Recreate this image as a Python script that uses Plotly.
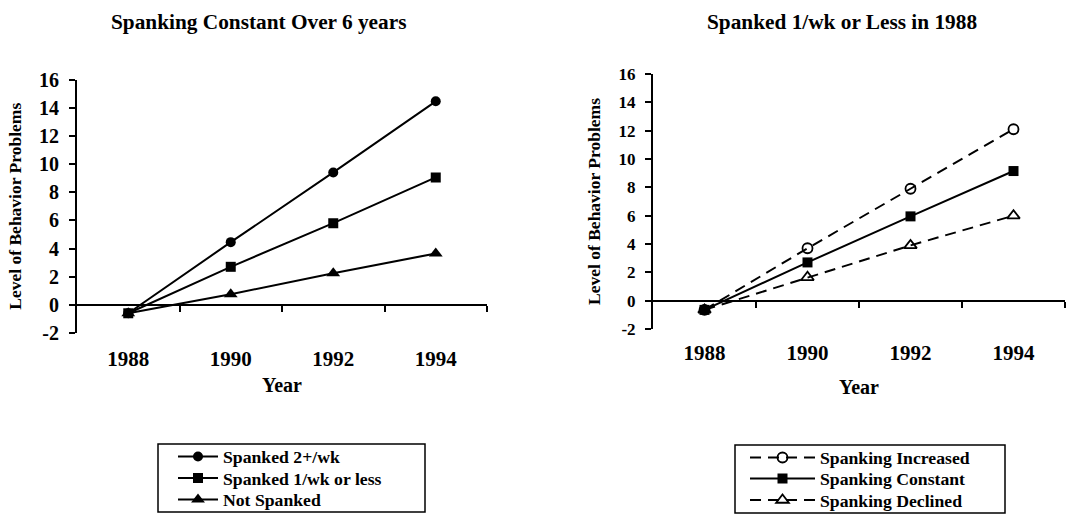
import plotly.graph_objects as go

W, H = 1067, 514

years = [1988, 1990, 1992, 1994]

# Left panel: Spanking Constant Over 6 years
left_names = ["Spanked 2+/wk", "Spanked 1/wk or less", "Not Spanked"]
spanked_2plus = [-0.6, 4.45, 9.4, 14.45]
spanked_1orless = [-0.6, 2.7, 5.8, 9.05]
not_spanked = [-0.6, 0.75, 2.25, 3.65]

# Right panel: Spanked 1/wk or Less in 1988
right_names = ["Spanking Increased", "Spanking Constant", "Spanking Declined"]
spank_increased = [-0.65, 3.7, 7.9, 12.1]
spank_constant = [-0.65, 2.7, 5.95, 9.15]
spank_declined = [-0.65, 1.65, 3.9, 6.0]

y_ticks = list(range(-2, 17, 2))
y_ticktext = [str(v) for v in y_ticks]  # plain hyphen for "-2"
x_boundaries = [1989, 1991, 1993, 1995]

FONT = "Liberation Serif"

def px_x(p):
    return p / W

def px_y(p):
    return 1 - p / H

# domains (pixel based)
L_x = [px_x(77), px_x(487)]
L_y = [px_y(333), px_y(79.5)]
R_x = [px_x(653), px_x(1065)]
R_y = [px_y(329), px_y(74)]

def zero_pos(dom):
    return dom[0] + (0 - (-2)) / 18 * (dom[1] - dom[0])

bold = lambda s: dict(family=FONT, size=s, color="black", weight="bold")

fig = go.Figure()

left_series = [spanked_2plus, spanked_1orless, not_spanked]
left_markers = [dict(symbol="circle", size=10, color="black"),
                dict(symbol="square", size=10, color="black"),
                dict(symbol="triangle-up", size=12, color="black")]
right_series = [spank_increased, spank_constant, spank_declined]
right_markers = [dict(symbol="circle-open", size=10, color="black", line=dict(width=1.8)),
                 dict(symbol="square", size=10, color="black"),
                 dict(symbol="triangle-up-open", size=11, color="black", line=dict(width=1.8))]
right_dash = ["11px,7px", "solid", "11px,7px"]

for i in range(3):
    fig.add_trace(go.Scatter(x=years, y=left_series[i], name=left_names[i], mode="lines+markers",
                             line=dict(color="black", width=2), marker=left_markers[i],
                             xaxis="x", yaxis="y", legend="legend" if i == 0 else f"legend{i+1}"))
for i in range(3):
    fig.add_trace(go.Scatter(x=years, y=right_series[i], name=right_names[i], mode="lines+markers",
                             line=dict(color="black", width=2, dash=right_dash[i]), marker=right_markers[i],
                             xaxis="x2", yaxis="y2", legend=f"legend{i+4}"))

def label_xaxis(dom, anchor, size, ticklen, standoff):
    return dict(domain=dom, anchor=anchor, range=[1987, 1995], showline=False, showgrid=False,
                zeroline=False, tickmode="array", tickvals=years, ticktext=[str(y) for y in years],
                ticks="outside", ticklen=ticklen, tickcolor="rgba(0,0,0,0)", tickfont=bold(size),
                title=dict(text="Year", font=bold(20), standoff=standoff))

def tick_xaxis(dom, overlay, pos):
    return dict(domain=dom, overlaying=overlay, anchor="free", position=pos, range=[1987, 1995],
                showline=True, linecolor="black", linewidth=2, showgrid=False, zeroline=False,
                tickmode="array", tickvals=x_boundaries, ticks="outside", ticklen=6, tickwidth=2,
                tickcolor="black", showticklabels=False)

def yax(dom, anchor, size):
    return dict(domain=dom, anchor=anchor, range=[-2, 16], showline=True, linecolor="black", linewidth=2,
                showgrid=False, zeroline=False, tickmode="array", tickvals=y_ticks, ticktext=y_ticktext,
                ticks="outside", ticklen=6, tickwidth=2, tickcolor="black", tickfont=bold(size),
                ticklabelstandoff=6,
                title=dict(text="Level of Behavior Problems", font=bold(17.5), standoff=13))

def leg(xpx, ypx, itemwidth):
    return dict(x=px_x(xpx), y=px_y(ypx), xanchor="left", yanchor="middle",
                font=bold(17.7), itemwidth=itemwidth, bgcolor="rgba(0,0,0,0)", borderwidth=0)

left_leg_y = [457, 478.5, 500]
right_leg_y = [458, 479, 500.5]

layout_legends = {}
for i in range(3):
    key = "legend" if i == 0 else f"legend{i+1}"
    layout_legends[key] = leg(173, left_leg_y[i], 40)
for i in range(3):
    layout_legends[f"legend{i+4}"] = leg(745, right_leg_y[i], 65)

fig.update_layout(
    width=W, height=H,
    margin=dict(l=0, r=0, t=0, b=0, autoexpand=False),
    paper_bgcolor="white", plot_bgcolor="white",
    font=dict(family=FONT, color="black"),
    xaxis=label_xaxis(L_x, "y", 21, 7, 7),
    xaxis3=tick_xaxis(L_x, "x", zero_pos(L_y)),
    yaxis=yax(L_y, "x", 20),
    xaxis2=label_xaxis(R_x, "y2", 21, 5, 15),
    xaxis4=tick_xaxis(R_x, "x2", zero_pos(R_y)),
    yaxis2=yax(R_y, "x2", 17),
    showlegend=True,
    annotations=[
        dict(text="Spanking Constant Over 6 years", x=px_x(258), y=px_y(22), xref="paper", yref="paper",
             showarrow=False, font=bold(21.3), xanchor="center", yanchor="middle"),
        dict(text="Spanked 1/wk or Less in 1988", x=px_x(842), y=px_y(22), xref="paper", yref="paper",
             showarrow=False, font=bold(21.3), xanchor="center", yanchor="middle"),
    ],
    shapes=[
        dict(type="rect", xref="paper", yref="paper", x0=px_x(158), x1=px_x(425), y0=px_y(512), y1=px_y(444),
             line=dict(color="black", width=1.5)),
        dict(type="rect", xref="paper", yref="paper", x0=px_x(735), x1=px_x(1005), y0=px_y(513), y1=px_y(445),
             line=dict(color="black", width=1.5)),
    ],
    **layout_legends,
)

# dummy traces so overlay axes render
fig.add_trace(go.Scatter(x=[None], y=[None], xaxis="x3", yaxis="y", showlegend=False, hoverinfo="skip"))
fig.add_trace(go.Scatter(x=[None], y=[None], xaxis="x4", yaxis="y2", showlegend=False, hoverinfo="skip"))

fig.write_html("out.html", config={"displayModeBar": False},
               post_script="document.body.style.margin='0';document.body.style.overflow='hidden';")
